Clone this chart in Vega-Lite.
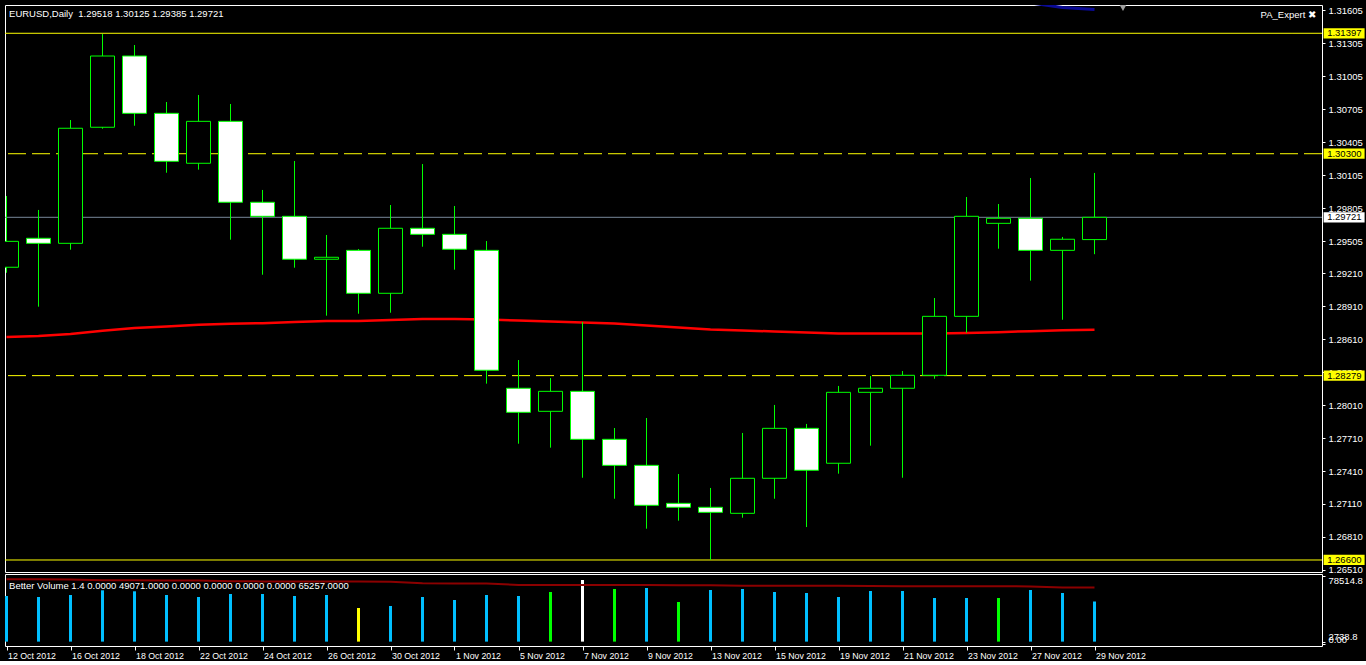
{
  "$schema": "https://vega.github.io/schema/vega-lite/v6.json",
  "background": "#000000",
  "padding": {"left": 4, "top": 4, "right": 0, "bottom": 0},
  "spacing": 2,
  "bounds": "flush",
  "datasets": {
    "bars": [
      {"n": 0, "date": "12 Oct 2012", "open": 1.29266, "high": 1.29915, "low": 1.29216, "close": 1.29502, "ma": 1.28631, "vol": 55421, "vtype": "neutral", "vma": 74800},
      {"n": 1, "date": "15 Oct 2012", "open": 1.29530, "high": 1.29788, "low": 1.28907, "close": 1.29484, "ma": 1.28640, "vol": 54266, "vtype": "neutral", "vma": 74700},
      {"n": 2, "date": "16 Oct 2012", "open": 1.29484, "high": 1.30607, "low": 1.29426, "close": 1.30532, "ma": 1.28658, "vol": 56575, "vtype": "neutral", "vma": 74600},
      {"n": 3, "date": "17 Oct 2012", "open": 1.30541, "high": 1.31390, "low": 1.30528, "close": 1.31190, "ma": 1.28688, "vol": 62002, "vtype": "neutral", "vma": 73600},
      {"n": 4, "date": "18 Oct 2012", "open": 1.31190, "high": 1.31290, "low": 1.30555, "close": 1.30668, "ma": 1.28713, "vol": 60847, "vtype": "neutral", "vma": 73500},
      {"n": 5, "date": "19 Oct 2012", "open": 1.30668, "high": 1.30771, "low": 1.30127, "close": 1.30231, "ma": 1.28727, "vol": 56575, "vtype": "neutral", "vma": 73400},
      {"n": 6, "date": "22 Oct 2012", "open": 1.30213, "high": 1.30835, "low": 1.30155, "close": 1.30595, "ma": 1.28743, "vol": 54266, "vtype": "neutral", "vma": 73300},
      {"n": 7, "date": "23 Oct 2012", "open": 1.30595, "high": 1.30753, "low": 1.29517, "close": 1.29858, "ma": 1.28752, "vol": 57730, "vtype": "neutral", "vma": 72400},
      {"n": 8, "date": "24 Oct 2012", "open": 1.29858, "high": 1.29970, "low": 1.29198, "close": 1.29730, "ma": 1.28756, "vol": 57730, "vtype": "neutral", "vma": 72300},
      {"n": 9, "date": "25 Oct 2012", "open": 1.29730, "high": 1.30234, "low": 1.29262, "close": 1.29339, "ma": 1.28767, "vol": 55421, "vtype": "neutral", "vma": 72300},
      {"n": 10, "date": "26 Oct 2012", "open": 1.29339, "high": 1.29560, "low": 1.28825, "close": 1.29357, "ma": 1.28777, "vol": 56575, "vtype": "neutral", "vma": 72200},
      {"n": 11, "date": "29 Oct 2012", "open": 1.29420, "high": 1.29432, "low": 1.28843, "close": 1.29029, "ma": 1.28777, "vol": 41566, "vtype": "low", "vma": 72100},
      {"n": 12, "date": "30 Oct 2012", "open": 1.29029, "high": 1.29833, "low": 1.28852, "close": 1.29621, "ma": 1.28786, "vol": 43875, "vtype": "neutral", "vma": 72000},
      {"n": 13, "date": "31 Oct 2012", "open": 1.29621, "high": 1.30206, "low": 1.29453, "close": 1.29566, "ma": 1.28795, "vol": 54266, "vtype": "neutral", "vma": 70000},
      {"n": 14, "date": "1 Nov 2012", "open": 1.29566, "high": 1.29824, "low": 1.29244, "close": 1.29430, "ma": 1.28795, "vol": 50802, "vtype": "neutral", "vma": 69900},
      {"n": 15, "date": "2 Nov 2012", "open": 1.29420, "high": 1.29505, "low": 1.28206, "close": 1.28328, "ma": 1.28790, "vol": 56575, "vtype": "neutral", "vma": 69800},
      {"n": 16, "date": "5 Nov 2012", "open": 1.28164, "high": 1.28421, "low": 1.27659, "close": 1.27945, "ma": 1.28781, "vol": 55421, "vtype": "neutral", "vma": 68200},
      {"n": 17, "date": "6 Nov 2012", "open": 1.27954, "high": 1.28257, "low": 1.27623, "close": 1.28136, "ma": 1.28772, "vol": 60039, "vtype": "churn", "vma": 68100},
      {"n": 18, "date": "7 Nov 2012", "open": 1.28136, "high": 1.28767, "low": 1.27349, "close": 1.27699, "ma": 1.28763, "vol": 73894, "vtype": "climax down", "vma": 68100},
      {"n": 19, "date": "8 Nov 2012", "open": 1.27699, "high": 1.27802, "low": 1.27158, "close": 1.27462, "ma": 1.28754, "vol": 63503, "vtype": "churn", "vma": 68000},
      {"n": 20, "date": "9 Nov 2012", "open": 1.27462, "high": 1.27893, "low": 1.26885, "close": 1.27098, "ma": 1.28736, "vol": 64658, "vtype": "neutral", "vma": 68000},
      {"n": 21, "date": "12 Nov 2012", "open": 1.27116, "high": 1.27383, "low": 1.26958, "close": 1.27080, "ma": 1.28717, "vol": 48493, "vtype": "churn", "vma": 67900},
      {"n": 22, "date": "13 Nov 2012", "open": 1.27080, "high": 1.27256, "low": 1.26600, "close": 1.27034, "ma": 1.28699, "vol": 62348, "vtype": "neutral", "vma": 67800},
      {"n": 23, "date": "14 Nov 2012", "open": 1.27025, "high": 1.27757, "low": 1.26985, "close": 1.27344, "ma": 1.28690, "vol": 63503, "vtype": "neutral", "vma": 67300},
      {"n": 24, "date": "15 Nov 2012", "open": 1.27344, "high": 1.28012, "low": 1.27158, "close": 1.27799, "ma": 1.28681, "vol": 60039, "vtype": "neutral", "vma": 67300},
      {"n": 25, "date": "16 Nov 2012", "open": 1.27799, "high": 1.27839, "low": 1.26900, "close": 1.27417, "ma": 1.28672, "vol": 58885, "vtype": "neutral", "vma": 67200},
      {"n": 26, "date": "19 Nov 2012", "open": 1.27481, "high": 1.28185, "low": 1.27386, "close": 1.28127, "ma": 1.28663, "vol": 54266, "vtype": "neutral", "vma": 67200},
      {"n": 27, "date": "20 Nov 2012", "open": 1.28127, "high": 1.28276, "low": 1.27641, "close": 1.28164, "ma": 1.28663, "vol": 61194, "vtype": "neutral", "vma": 67100},
      {"n": 28, "date": "21 Nov 2012", "open": 1.28164, "high": 1.28321, "low": 1.27349, "close": 1.28282, "ma": 1.28663, "vol": 61194, "vtype": "neutral", "vma": 66700},
      {"n": 29, "date": "22 Nov 2012", "open": 1.28282, "high": 1.28986, "low": 1.28251, "close": 1.28819, "ma": 1.28663, "vol": 53112, "vtype": "neutral", "vma": 66700},
      {"n": 30, "date": "23 Nov 2012", "open": 1.28819, "high": 1.29906, "low": 1.28670, "close": 1.29730, "ma": 1.28668, "vol": 53112, "vtype": "neutral", "vma": 66600},
      {"n": 31, "date": "26 Nov 2012", "open": 1.29666, "high": 1.29842, "low": 1.29435, "close": 1.29712, "ma": 1.28675, "vol": 53112, "vtype": "churn", "vma": 66600},
      {"n": 32, "date": "27 Nov 2012", "open": 1.29712, "high": 1.30079, "low": 1.29144, "close": 1.29420, "ma": 1.28684, "vol": 62348, "vtype": "neutral", "vma": 66500},
      {"n": 33, "date": "28 Nov 2012", "open": 1.29420, "high": 1.29542, "low": 1.28788, "close": 1.29521, "ma": 1.28693, "vol": 58885, "vtype": "neutral", "vma": 65300},
      {"n": 34, "date": "29 Nov 2012", "open": 1.29518, "high": 1.30125, "low": 1.29385, "close": 1.29721, "ma": 1.28697, "vol": 49071, "vtype": "neutral", "vma": 65257}
    ],
    "levels": [
      {"price": 1.31397, "kind": "range"},
      {"price": 1.30300, "kind": "level"},
      {"price": 1.29721, "kind": "bid"},
      {"price": 1.28279, "kind": "level"},
      {"price": 1.26600, "kind": "range"}
    ],
    "band": [
      {"n": 32, "value": 1.31673},
      {"n": 33, "value": 1.31632},
      {"n": 34, "value": 1.31614}
    ]
  },
  "resolve": {"scale": {"x": "independent", "y": "independent"}, "axis": {"x": "independent", "y": "independent"}},
  "vconcat": [
    {
      "width": 1317,
      "height": 567,
      "layer": [
        {
          "data": {"name": "levels"},
          "mark": {"type": "rule", "strokeWidth": 1},
          "encoding": {
            "y": {
              "field": "price", "type": "quantitative",
              "scale": {"domain": [1.264906, 1.316545], "nice": false, "zero": false, "padding": 0},
              "axis": {
                "orient": "right", "title": null, "tickCount": 100,
                "values": [1.31605, 1.31305, 1.31005, 1.30705, 1.30405, 1.30105, 1.29805, 1.29505, 1.2921, 1.2891, 1.2861, 1.2831, 1.2801, 1.2771, 1.2741, 1.2711, 1.2681, 1.2651],
                "format": ".5f", "labelColor": "#FFFFFF", "tickColor": "#FFFFFF", "tickSize": 3,
                "labelPadding": 3, "domain": false, "grid": false, "labelOverlap": false, "labelBound": false,
                "labelFont": "Liberation Sans", "labelFontSize": 9.5
              }
            },
            "stroke": {"condition": {"test": "datum.kind == 'bid'", "value": "#778899"}, "value": "#FFFF00"},
            "strokeDash": {"condition": {"test": "datum.kind == 'level'", "value": [18, 6]}, "value": [1, 0]}
          }
        },
        {
          "data": {"name": "bars"},
          "mark": {"type": "line", "color": "#FF0000", "strokeWidth": 2.5, "clip": true},
          "encoding": {
            "x": {"field": "n", "type": "quantitative", "scale": {"domain": [-0.046875, 41.109375], "nice": false, "zero": false, "padding": 0}, "axis": null},
            "y": {"field": "ma", "type": "quantitative", "title": null}
          }
        },
        {
          "data": {"name": "band"},
          "mark": {"type": "line", "color": "#0A0A96", "strokeWidth": 3, "clip": true},
          "encoding": {
            "x": {"field": "n", "type": "quantitative", "axis": null},
            "y": {"field": "value", "type": "quantitative", "title": null}
          }
        },
        {
          "data": {"name": "bars"},
          "mark": {"type": "rule", "color": "#00FF00", "strokeWidth": 1, "clip": true},
          "encoding": {
            "x": {"field": "n", "type": "quantitative", "axis": null},
            "y": {"field": "low", "type": "quantitative", "title": null},
            "y2": {"field": "high"}
          }
        },
        {
          "data": {"name": "bars"},
          "mark": {"type": "bar", "size": 24, "stroke": "#00FF00", "strokeWidth": 1, "clip": true, "orient": "vertical"},
          "encoding": {
            "x": {"field": "n", "type": "quantitative", "axis": null},
            "y": {"field": "open", "type": "quantitative", "title": null},
            "y2": {"field": "close"},
            "fill": {"condition": {"test": "datum.close < datum.open", "value": "#FFFFFF"}, "value": "#000000"}
          }
        },
        {
          "data": {"name": "levels"},
          "mark": {"type": "point", "shape": "M-1,-0.25L1,-0.25L1,0.25L-1,0.25Z", "size": 1681, "filled": true, "opacity": 1, "strokeWidth": 0},
          "encoding": {
            "x": {"datum": 41.8, "type": "quantitative", "axis": null},
            "y": {"field": "price", "type": "quantitative", "title": null},
            "fill": {"condition": {"test": "datum.kind == 'bid'", "value": "#FFFFFF"}, "value": "#FFFF00"}
          }
        },
        {
          "data": {"name": "levels"},
          "mark": {"type": "text", "align": "left", "baseline": "middle", "color": "#000000", "font": "Liberation Sans", "fontSize": 9.5},
          "encoding": {
            "x": {"datum": 41.27, "type": "quantitative", "axis": null},
            "y": {"field": "price", "type": "quantitative", "title": null},
            "text": {"field": "price", "type": "quantitative", "format": ".5f"}
          }
        },
        {
          "data": {"values": [{}]},
          "mark": {"type": "text", "align": "left", "baseline": "middle", "color": "#FFFFFF", "font": "Liberation Sans", "fontSize": 9.5},
          "encoding": {
            "x": {"datum": 0.08, "type": "quantitative", "axis": null},
            "y": {"datum": 1.31573, "type": "quantitative", "title": null},
            "text": {"value": "EURUSD,Daily\u00a0 1.29518 1.30125 1.29385 1.29721"}
          }
        },
        {
          "data": {"values": [{}]},
          "mark": {"type": "text", "align": "right", "baseline": "middle", "color": "#FFFFFF", "font": "Liberation Sans", "fontSize": 9.5},
          "encoding": {
            "x": {"datum": 40.92, "type": "quantitative", "axis": null},
            "y": {"datum": 1.31563, "type": "quantitative", "title": null},
            "text": {"value": "PA_Expert  ✖"}
          }
        },
        {
          "data": {"values": [{}]},
          "mark": {"type": "point", "shape": "triangle-down", "filled": true, "color": "#A0A0A0", "size": 45, "opacity": 1},
          "encoding": {
            "x": {"datum": 34.89, "type": "quantitative", "axis": null},
            "y": {"datum": 1.31627, "type": "quantitative", "title": null}
          }
        }
      ]
    },
    {
      "width": 1317,
      "height": 72,
      "layer": [
        {
          "data": {"name": "bars"},
          "mark": {"type": "bar", "size": 3, "clip": true, "orient": "vertical"},
          "encoding": {
            "x": {
              "field": "n", "type": "quantitative",
              "scale": {"domain": [-0.046875, 41.109375], "nice": false, "zero": false, "padding": 0},
              "axis": {
                "orient": "bottom", "title": null, "tickCount": 100,
                "values": [0, 2, 4, 6, 8, 10, 12, 14, 16, 18, 20, 22, 24, 26, 28, 30, 32, 34],
                "labelExpr": "data('bars')[datum.value].date",
                "labelAlign": "left", "labelBaseline": "top", "labelFlush": false, "labelOverlap": false,
                "labelOffset": 1, "labelPadding": 1, "tickSize": 4, "tickColor": "#FFFFFF",
                "labelColor": "#FFFFFF", "domain": false, "grid": false,
                "labelFont": "Liberation Sans", "labelFontSize": 8.8
              }
            },
            "y": {
              "field": "vol", "type": "quantitative",
              "scale": {"domain": [-2309, 80822], "nice": false, "zero": false, "padding": 0},
              "axis": {
                "orient": "right", "title": null, "tickCount": 20,
                "values": [78514.8, 2738.8, 0],
                "labelExpr": "datum.value == 0 ? '0.00' : format(datum.value, '.1f')",
                "labelBaseline": {"condition": {"test": "datum.value > 40000", "value": "top"}, "value": "bottom"},
                "labelColor": "#FFFFFF", "tickColor": "#FFFFFF", "tickSize": 3, "labelPadding": 3,
                "domain": false, "grid": false, "labelOverlap": false, "labelBound": false,
                "labelFont": "Liberation Sans", "labelFontSize": 9.5
              }
            },
            "y2": {"datum": 2738.8},
            "color": {
              "field": "vtype", "type": "nominal",
              "scale": {"domain": ["neutral", "low", "churn", "climax down"], "range": ["#00BFFF", "#FFFF00", "#00FF00", "#FFFFFF"]},
              "legend": null
            }
          }
        },
        {
          "data": {"name": "bars"},
          "mark": {"type": "line", "color": "#8B0000", "strokeWidth": 2, "clip": true},
          "encoding": {
            "x": {"field": "n", "type": "quantitative", "title": null},
            "y": {"field": "vma", "type": "quantitative", "title": null}
          }
        },
        {
          "data": {"values": [{}]},
          "mark": {"type": "text", "align": "left", "baseline": "middle", "color": "#FFFFFF", "font": "Liberation Sans", "fontSize": 9.5},
          "encoding": {
            "x": {"datum": 0.08, "type": "quantitative", "title": null},
            "y": {"datum": 67313, "type": "quantitative", "title": null},
            "text": {"value": "Better Volume 1.4 0.0000 49071.0000 0.0000 0.0000 0.0000 0.0000 65257.0000"}
          }
        }
      ]
    }
  ],
  "config": {
    "background": "#000000",
    "view": {"stroke": "#FFFFFF", "strokeWidth": 1},
    "axis": {"labelOverlap": false}
  }
}
